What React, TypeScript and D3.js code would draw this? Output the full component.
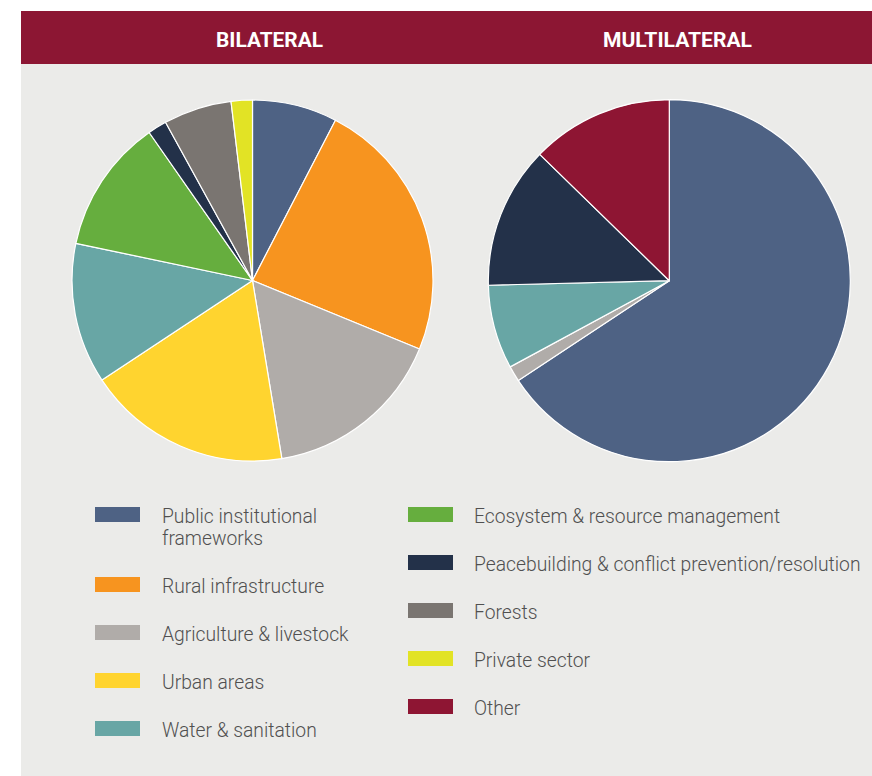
import React from "react";
import * as d3 from "d3";

const categories = [
  "Public institutional frameworks",
  "Rural infrastructure",
  "Agriculture & livestock",
  "Urban areas",
  "Water & sanitation",
  "Ecosystem & resource management",
  "Peacebuilding & conflict prevention/resolution",
  "Forests",
  "Private sector",
  "Other",
];

const colors = [
  "#4e6284",
  "#f7941f",
  "#b0aca9",
  "#ffd42f",
  "#68a6a5",
  "#66ae3e",
  "#233149",
  "#7a7571",
  "#e2e325",
  "#8e1533",
];

// shares (%) in clockwise order from 12 o'clock
const bilateralValues = [7.6, 23.6, 16.2, 18.3, 12.6, 12.0, 1.7, 6.1, 1.9, 0];
const multilateralValues = [65.7, 0, 1.4, 0, 7.5, 0, 12.7, 0, 0, 12.7];

const panelTitles = ["BILATERAL", "MULTILATERAL"];

const legendLabelLines: string[][] = [
  ["Public institutional", "frameworks"],
  ["Rural infrastructure"],
  ["Agriculture & livestock"],
  ["Urban areas"],
  ["Water & sanitation"],
  ["Ecosystem & resource management"],
  ["Peacebuilding & conflict prevention/resolution"],
  ["Forests"],
  ["Private sector"],
  ["Other"],
];

const W = 872;
const H = 776;

function Pie({ values, cx, cy, r }: { values: number[]; cx: number; cy: number; r: number }) {
  const data = values.map((v, i) => ({ v, i }));
  const pie = d3
    .pie<{ v: number; i: number }>()
    .value((d) => d.v)
    .sort(null)
    .startAngle(0)
    .endAngle(2 * Math.PI);
  const arc = d3.arc<d3.PieArcDatum<{ v: number; i: number }>>().innerRadius(0).outerRadius(r);
  const arcs = pie(data).filter((a) => a.data.v > 0);
  return (
    <g transform={`translate(${cx},${cy})`}>
      {arcs.map((a) => (
        <path
          key={a.data.i}
          d={arc(a) || ""}
          fill={colors[a.data.i]}
          stroke="#ffffff"
          strokeWidth={1.2}
          strokeLinejoin="round"
        />
      ))}
    </g>
  );
}

export default function App() {
  const titleX = [269.5, 677.5];
  const titleLen = [107, 149];
  const leftBaselines = [523, 593, 641, 689, 737];
  const rightBaselines = [523, 571, 619, 667, 715];
  const legendItems = categories.map((c, i) => {
    const col = i < 5 ? 0 : 1;
    const row = i % 5;
    const baseline = col === 0 ? leftBaselines[row] : rightBaselines[row];
    return {
      i,
      label: c,
      swX: col === 0 ? 95 : 408,
      txtX: col === 0 ? 162 : 474,
      baseline,
    };
  });

  return (
    <svg
      width={W}
      height={H}
      style={{ position: "absolute", left: 0, top: 0, display: "block" }}
      fontFamily="Roboto, 'Noto Sans', sans-serif"
    >
      <rect x={0} y={0} width={W} height={H} fill="#ffffff" />
      <rect x={21} y={64} width={W - 21} height={H - 64} fill="#ebebe9" />
      <rect x={21} y={11} width={W - 21} height={53} fill="#8c1633" />
      {panelTitles.map((t, k) => (
        <text
          key={t}
          x={titleX[k]}
          y={47}
          textAnchor="middle"
          fill="#ffffff"
          fontWeight={700}
          fontSize={21}
          textLength={titleLen[k]}
          lengthAdjust="spacingAndGlyphs"
        >
          {t}
        </text>
      ))}
      <Pie values={bilateralValues} cx={252.5} cy={280.5} r={180.5} />
      <Pie values={multilateralValues} cx={669.3} cy={280.7} r={181} />
      {legendItems.map((it) => (
        <g key={it.i}>
          <rect x={it.swX} y={it.baseline - 16} width={45} height={15} fill={colors[it.i]} />
          <text x={it.txtX} y={it.baseline} fontSize={19.3} fontWeight={300} fill="#505050">
            {legendLabelLines[it.i].map((line, li) => (
              <tspan key={li} x={it.txtX} dy={li === 0 ? 0 : 22}>
                {line}
              </tspan>
            ))}
          </text>
        </g>
      ))}
    </svg>
  );
}
